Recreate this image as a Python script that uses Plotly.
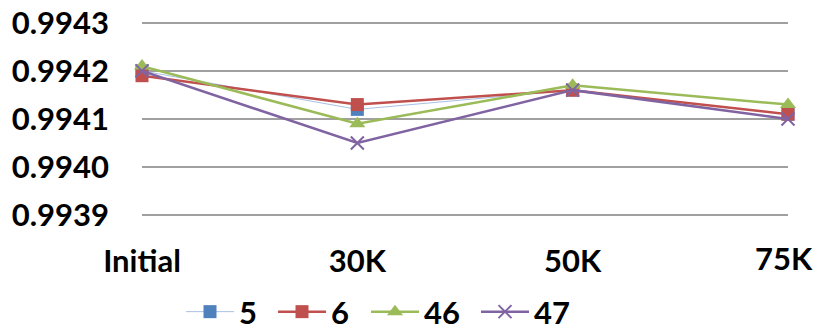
import plotly.graph_objects as go

categories = ["Initial", "30K", "50K", "75K"]
series_names = ["5", "6", "46", "47"]
s5 = [0.99420, 0.99412, 0.99416, 0.99411]
s6 = [0.99419, 0.99413, 0.99416, 0.99411]
s46 = [0.99421, 0.99409, 0.99417, 0.99413]
s47 = [0.99420, 0.99405, 0.99416, 0.99410]
y_ticks = [0.9939, 0.9940, 0.9941, 0.9942, 0.9943]

colors = ["#4F81BD", "#C0504D", "#9BBB59", "#8064A2"]
line_colors = ["#A7C0E4", "#C0504D", "#9BBB59", "#8064A2"]
line_widths = [1, 2.5, 2.5, 2.5]
symbols = ["square", "square", "triangle-up", "x-thin"]
sizes = [13, 13, 14, 13]
legend_ids = ["legend", "legend2", "legend3", "legend4"]
legend_text_x = [240, 332, 425, 535]  # px where each legend text starts

W, H = 819, 331
x = list(range(len(categories)))
fig = go.Figure()
for name, vals, c, lc, lw, sym, sz, lg in zip(series_names, [s5, s6, s46, s47], colors, line_colors,
                                              line_widths, symbols, sizes, legend_ids):
    marker = dict(symbol=sym, size=sz, color=c)
    if sym == "x-thin":
        marker["line"] = dict(color=c, width=2)
    fig.add_trace(go.Scatter(x=x, y=vals, name=name, mode="lines+markers", legend=lg,
                             line=dict(color=lc, width=lw), marker=marker, cliponaxis=False))

font = dict(family="Lato, Liberation Sans, sans-serif", size=31, color="black", weight="bold")
legends = {}
for lg, tx in zip(legend_ids, legend_text_x):
    legends[lg] = dict(orientation="h", x=(tx - 59) / W, xanchor="left", xref="container",
                       y=1 - 312 / H, yanchor="middle", yref="container",
                       font=font, itemwidth=48, bgcolor="rgba(0,0,0,0)")

fig.update_layout(
    width=W, height=H,
    margin=dict(l=142, r=31, t=18, b=111, autoexpand=False),
    plot_bgcolor="white", paper_bgcolor="white",
    font=font,
    showlegend=True,
    xaxis=dict(range=[0, 3], tickvals=x[:-1], ticktext=categories[:-1], showgrid=False, zeroline=False,
               showline=False, ticks="", ticklabelstandoff=20, tickfont=font,
               ticklabeloverflow="allow"),
    yaxis=dict(range=[0.99389, 0.99431], tickvals=y_ticks, ticktext=[f"{v:.4f}" for v in y_ticks],
               showgrid=True, gridcolor="#A0A0A0", gridwidth=1.5, zeroline=False,
               showline=False, ticks="", ticklabelstandoff=32, tickfont=font,
               ticklabeloverflow="allow"),
    **legends,
)
# last category label: Excel nudges it left so it stays inside the chart
fig.add_annotation(x=x[-1], xref="x", y=0, yref="paper", text=categories[-1], showarrow=False,
                   xanchor="right", xshift=27, yanchor="middle", yshift=-38, font=font)
fig.add_shape(type="line", xref="paper", yref="y", x0=0, x1=1, y0=0.9939, y1=0.9939,
              line=dict(color="#404040", width=1.5), layer="below")
fig.write_html("out.html", post_script="document.body.style.margin='0';",
               config={"displayModeBar": False})
